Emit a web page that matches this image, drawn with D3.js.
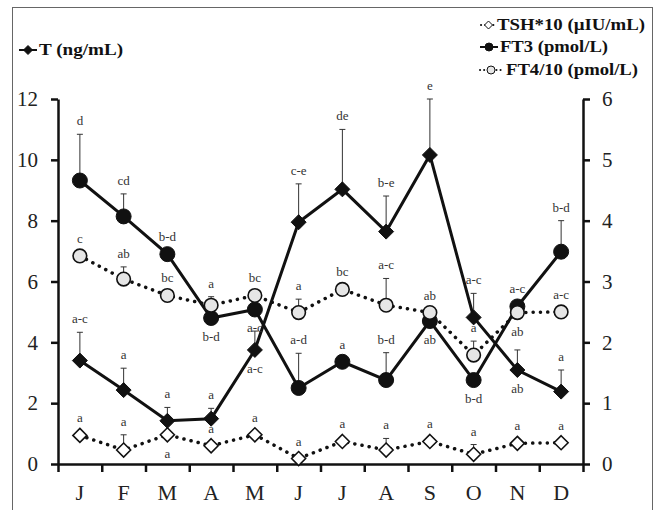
<!DOCTYPE html>
<html>
<head>
<meta charset="utf-8">
<script src="https://cdn.jsdelivr.net/npm/d3@7"></script>
<style>
  body { margin: 0; background: #fff; }
  svg text { font-family: "Times New Roman", "Liberation Serif", Tinos, "Nimbus Roman", serif; }
  .axis path, .axis line { stroke: #111; stroke-width: 2.5; }
  .axis text { font-size: 21px; fill: #222; }
  .letter { font-size: 13px; fill: #333; text-anchor: middle; }
  .legend text { font-size: 16px; font-weight: bold; fill: #111; }
</style>
</head>
<body>
<svg id="chart" width="655" height="510"></svg>
<script>
// months along the x axis
const months = ["J","F","M","A","M","J","J","A","S","O","N","D"];

// T (ng/mL), left axis
const tVals = [3.40, 2.43, 1.42, 1.49, 3.75, 7.95, 9.03, 7.64, 10.16, 4.82, 3.09, 2.38];
const tErr  = [0.93, 0.72, 0.44, 0.34, 0.62, 1.26, 1.97, 1.17, 1.84, 0.79, 0.66, 0.71];
const tLetters = ["a-c","a","a","a","a-c","c-e","de","b-e","e","a-c","ab","a"];
const tSide    = ["up","up","up","up","down","up","up","up","up","up","down","up"];

// FT3 (pmol/L), right axis
const ft3Vals = [4.66, 4.07, 3.45, 2.40, 2.54, 1.25, 1.68, 1.38, 2.35, 1.38, 2.59, 3.49];
const ft3Err  = [0.76, 0.37, 0, 0, 0, 0.57, 0, 0.45, 0, 0, 0, 0.51];
const ft3Letters = ["d","cd","b-d","b-d","a-c","a-d","a","b-d","ab","b-d","a-c","b-d"];
const ft3Side    = ["up","up","up","down","down","up","up","up","down","down","up","up"];

// FT4/10 (pmol/L), right axis
const ft4Vals = [3.42, 3.04, 2.77, 2.61, 2.77, 2.49, 2.87, 2.61, 2.49, 1.79, 2.49, 2.50];
const ft4Err  = [0, 0.20, 0, 0.14, 0, 0.22, 0, 0.44, 0, 0.23, 0, 0];
const ft4Letters = ["c","ab","bc","a","bc","a","bc","a-c","ab","a","ab","a-c"];
const ft4Side    = ["up","up","up","up","up","up","up","up","up","up","down","up"];

// TSH*10 (µIU/mL), right axis
const tshVals = [0.47, 0.23, 0.48, 0.30, 0.48, 0.09, 0.37, 0.23, 0.37, 0.16, 0.34, 0.35];
const tshErr  = [0, 0.25, 0, 0, 0, 0, 0, 0.19, 0, 0.16, 0, 0];
const tshLetters = ["a","a","a","a","a","a","a","a","a","a","a","a"];
const tshSide    = ["up","up","down","up","up","up","up","up","up","up","up","up"];

const leftTicks = [0, 2, 4, 6, 8, 10, 12];
const rightTicks = [0, 1, 2, 3, 4, 5, 6];

const svg = d3.select("#chart");
const plot = {left: 58, right: 583, top: 99, bottom: 464};

// frame around the figure
svg.append("rect")
    .attr("x", 12.5).attr("y", 7.5)
    .attr("width", 640).attr("height", 520)
    .attr("fill", "none").attr("stroke", "#666").attr("stroke-width", 1);

const x = d3.scaleBand().domain(d3.range(months.length)).range([plot.left, plot.right]);
const xEdge = d3.scaleLinear().domain([0, months.length]).range([plot.left, plot.right]);
const cx = i => x(i) + x.bandwidth() / 2;
const yL = d3.scaleLinear().domain([0, 12]).range([plot.bottom, plot.top]);
const yR = d3.scaleLinear().domain([0, 6]).range([plot.bottom, plot.top]);

// axes
svg.append("g").attr("class", "axis")
    .attr("transform", `translate(${plot.left},0)`)
    .call(d3.axisLeft(yL).tickValues(leftTicks).tickSize(7).tickSizeOuter(0).tickPadding(13).tickFormat(d3.format("d")));
svg.append("g").attr("class", "axis")
    .attr("transform", `translate(${plot.right},0)`)
    .call(d3.axisRight(yR).tickValues(rightTicks).tickSize(7).tickSizeOuter(0).tickPadding(12).tickFormat(d3.format("d")));
svg.append("g").attr("class", "axis")
    .attr("transform", `translate(0,${plot.bottom})`)
    .call(d3.axisBottom(xEdge).tickValues(d3.range(months.length + 1)).tickSize(8).tickSizeOuter(0).tickFormat(""));

svg.append("g").selectAll("text")
    .data(months)
    .join("text")
    .attr("x", (d, i) => cx(i))
    .attr("y", 500)
    .attr("text-anchor", "middle")
    .attr("font-size", 22)
    .attr("fill", "#222")
    .text(d => d);

const diamond = r => `M0,${-r}L${r},0L0,${r}L${-r},0Z`;

const series = [
  {vals: ft3Vals, err: ft3Err, letters: ft3Letters, side: ft3Side, y: yR, dotted: false,
   shape: "circle", fill: "#111", r: 7.5},
  {vals: ft4Vals, err: ft4Err, letters: ft4Letters, side: ft4Side, y: yR, dotted: true,
   shape: "circle", fill: "#e6e6e6", r: 6.8},
  {vals: tVals, err: tErr, letters: tLetters, side: tSide, y: yL, dotted: false,
   shape: "diamond", fill: "#111", r: 7.5},
  {vals: tshVals, err: tshErr, letters: tshLetters, side: tshSide, y: yR, dotted: true,
   shape: "diamond", fill: "#fff", r: 7}
];

// lines
series.forEach(s => {
  const line = d3.line().x((d, i) => cx(i)).y(d => s.y(d));
  svg.append("path")
      .datum(s.vals)
      .attr("d", line)
      .attr("fill", "none")
      .attr("stroke", "#111")
      .attr("stroke-width", s.dotted ? 3.5 : 3)
      .attr("stroke-linecap", s.dotted ? "round" : "butt")
      .attr("stroke-dasharray", s.dotted ? "0.1,7.2" : null);
});

// error bars (upper only)
series.forEach(s => {
  const g = svg.append("g").attr("stroke", "#333").attr("stroke-width", 1);
  s.vals.forEach((v, i) => {
    if (!s.err[i]) return;
    const top = s.y(v + s.err[i]);
    g.append("line").attr("x1", cx(i)).attr("x2", cx(i)).attr("y1", s.y(v)).attr("y2", top);
    g.append("line").attr("x1", cx(i) - 3).attr("x2", cx(i) + 3).attr("y1", top).attr("y2", top);
  });
});

// markers
series.forEach(s => {
  const g = svg.append("g");
  s.vals.forEach((v, i) => {
    const m = s.shape === "circle"
      ? g.append("circle").attr("cx", cx(i)).attr("cy", s.y(v)).attr("r", s.r)
      : g.append("path").attr("d", diamond(s.r)).attr("transform", `translate(${cx(i)},${s.y(v)})`);
    m.attr("fill", s.fill).attr("stroke", "#111").attr("stroke-width", s.fill === "#111" ? 1 : 1.6);
  });
});

// significance letters
series.forEach(s => {
  svg.append("g").selectAll("text")
      .data(s.letters)
      .join("text")
      .attr("class", "letter")
      .attr("x", (d, i) => cx(i))
      .attr("y", (d, i) => {
        const py = s.y(s.vals[i]);
        if (s.side[i] === "down") return py + 23;
        const ty = s.err[i] ? s.y(s.vals[i] + s.err[i]) - 9 : py - 13;
        return Math.min(py - 13, ty);
      })
      .text(d => d);
});

// legends
const leg = svg.append("g").attr("class", "legend");
function legendItem(x0, x1, yy, dotted, shape, fill, r, label, tx, tl) {
  leg.append("line").attr("x1", x0).attr("x2", x1).attr("y1", yy).attr("y2", yy)
      .attr("stroke", "#111")
      .attr("stroke-width", 2)
      .attr("stroke-linecap", dotted ? "round" : "butt")
      .attr("stroke-dasharray", dotted ? "0.1,4" : null);
  const mx = (x0 + x1) / 2;
  const m = shape === "circle"
    ? leg.append("circle").attr("cx", mx).attr("cy", yy).attr("r", r)
    : leg.append("path").attr("d", diamond(r)).attr("transform", `translate(${mx},${yy})`);
  m.attr("fill", fill).attr("stroke", "#111").attr("stroke-width", 1);
  leg.append("text").attr("x", tx).attr("y", yy + 5)
      .attr("textLength", tl).attr("lengthAdjust", "spacingAndGlyphs")
      .text(label);
}
legendItem(19, 37, 50, false, "diamond", "#111", 4.5, "T (ng/mL)", 39, 84);
legendItem(481, 496, 25, true, "diamond", "#fff", 4, "TSH*10 (µIU/mL)", 497, 148);
legendItem(480, 498, 47, false, "circle", "#111", 4, "FT3 (pmol/L)", 500, 108);
legendItem(480, 502, 70, true, "circle", "#e6e6e6", 4, "FT4/10 (pmol/L)", 506, 132);
</script>
</body>
</html>
